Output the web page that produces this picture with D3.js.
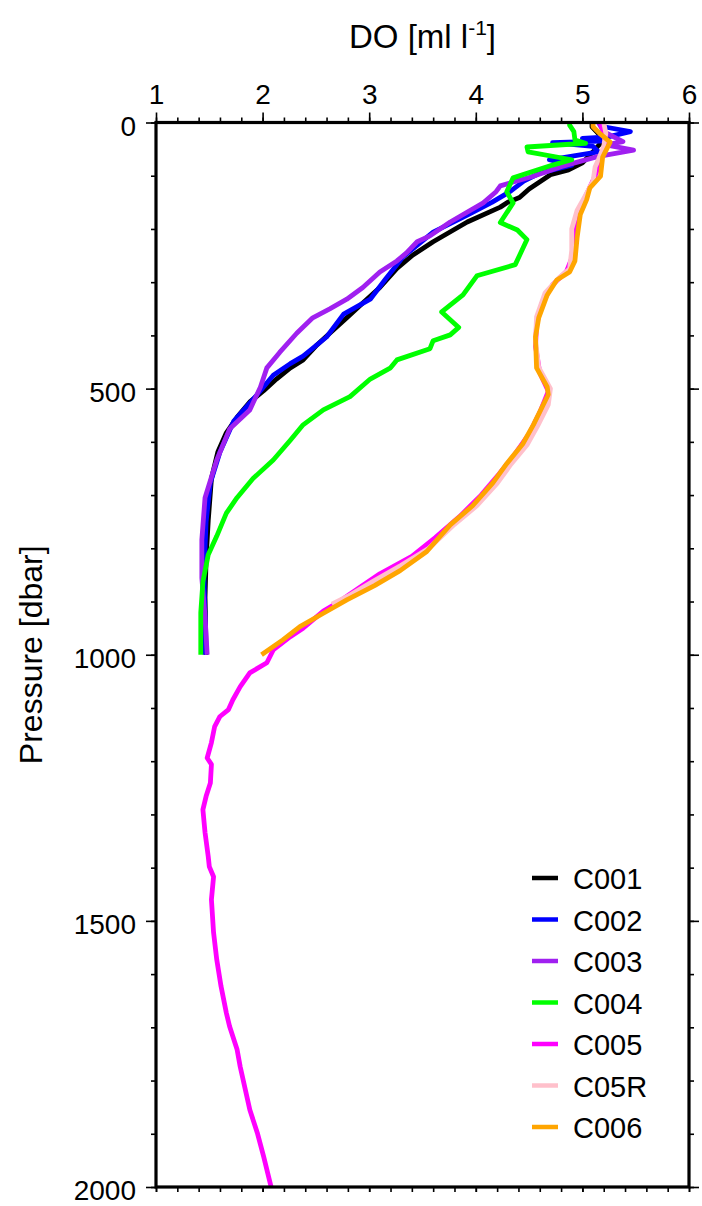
<!DOCTYPE html>
<html><head><meta charset="utf-8">
<script src="https://cdn.jsdelivr.net/npm/d3@7"></script>
<style>body{margin:0;background:#fff}svg{display:block}</style>
</head><body>
<script>
// Each profile: [DO (ml/l), pressure (dbar)]
const c001 = [[5.09,0],[5.09,8],[5.17,25],[5.17,39],[5.10,55],[5.00,76],[4.87,89],[4.70,98],[4.50,125],[4.41,141],[4.30,150],[4.23,159],[3.92,187],[3.60,224],[3.41,249],[3.26,274],[3.10,310],[2.94,339],[2.79,367],[2.63,396],[2.51,418],[2.38,446],[2.26,461],[2.13,482],[2.01,504],[1.88,525],[1.76,554],[1.66,583],[1.58,619],[1.52,669],[1.49,748],[1.47,820],[1.46,892],[1.47,1000]];
const c002 = [[5.17,0],[5.20,8],[5.45,17],[5.24,27],[5.00,30],[5.17,35],[4.72,38],[5.10,45],[5.15,55],[4.69,70],[4.90,80],[4.60,95],[4.45,110],[4.32,130],[4.15,150],[3.92,174],[3.60,206],[3.32,252],[3.15,295],[3.01,332],[2.76,360],[2.60,403],[2.38,439],[2.26,453],[2.10,475],[1.95,511],[1.73,561],[1.60,619],[1.51,677],[1.47,750],[1.45,850],[1.46,930],[1.46,1000]];
const c003 = [[5.15,0],[5.20,17],[5.38,36],[5.22,42],[5.48,52],[5.14,64],[4.80,83],[4.54,101],[4.23,119],[4.19,130],[4.07,151],[3.76,187],[3.57,213],[3.45,224],[3.35,245],[3.26,260],[3.10,281],[2.94,310],[2.79,332],[2.63,350],[2.47,367],[2.32,396],[2.16,432],[2.04,461],[1.98,497],[1.88,540],[1.69,576],[1.57,634],[1.46,705],[1.43,784],[1.43,856],[1.46,928],[1.48,1000]];
const c004 = [[4.88,0],[4.88,5],[4.92,17],[4.93,33],[5.03,39],[4.48,46],[4.49,55],[4.90,70],[4.72,80],[4.35,104],[4.29,130],[4.35,151],[4.23,188],[4.39,202],[4.48,220],[4.37,267],[4.01,288],[3.88,324],[3.68,356],[3.84,385],[3.76,399],[3.60,410],[3.57,425],[3.26,446],[3.20,461],[3.01,482],[2.82,515],[2.57,540],[2.38,568],[2.26,597],[2.10,634],[1.91,669],[1.76,705],[1.66,734],[1.57,777],[1.49,812],[1.44,863],[1.42,921],[1.42,1000]];
const c005 = [[5.17,0],[5.20,22],[5.22,40],[5.17,70],[5.12,100],[5.05,130],[4.98,160],[4.92,200],[4.91,250],[4.85,280],[4.72,305],[4.62,340],[4.57,380],[4.56,420],[4.60,470],[4.68,505],[4.60,545],[4.50,585],[4.36,625],[4.22,660],[4.05,700],[3.85,740],[3.62,780],[3.40,815],[3.10,848],[2.90,875],[2.72,900],[2.57,918],[2.38,950],[2.26,966],[2.10,991],[2.04,1015],[1.88,1034],[1.79,1060],[1.72,1085],[1.68,1103],[1.60,1116],[1.55,1135],[1.52,1165],[1.48,1194],[1.52,1206],[1.51,1241],[1.47,1266],[1.44,1291],[1.46,1334],[1.49,1379],[1.50,1398],[1.54,1417],[1.52,1460],[1.54,1522],[1.57,1573],[1.61,1623],[1.66,1673],[1.69,1698],[1.76,1741],[1.79,1774],[1.88,1855],[1.95,1898],[2.01,1943],[2.08,2000]];
const c05r = [[5.20,0],[5.22,20],[5.20,45],[5.15,70],[5.12,83],[5.10,110],[5.02,140],[4.95,165],[4.90,200],[4.90,240],[4.88,275],[4.78,292],[4.65,320],[4.57,365],[4.56,410],[4.59,460],[4.70,500],[4.68,530],[4.58,570],[4.48,606],[4.33,642],[4.20,678],[4.01,720],[3.80,755],[3.56,800],[3.30,832],[3.02,864],[2.80,890],[2.65,905]];
const c006 = [[5.10,0],[5.10,8],[5.17,22],[5.26,37],[5.19,65],[5.17,101],[5.07,123],[5.04,145],[4.98,173],[4.95,217],[4.93,260],[4.88,281],[4.76,296],[4.67,324],[4.59,367],[4.56,403],[4.57,461],[4.67,497],[4.68,511],[4.54,568],[4.44,604],[4.29,641],[4.16,677],[3.97,720],[3.76,756],[3.54,806],[3.29,842],[3.05,870],[2.79,897],[2.57,922],[2.35,947],[2.19,972],[1.99,1000]];

const seriesNames  = ["C001","C002","C003","C004","C005","C05R","C006"];
const seriesColors = ["#000000","#0000ff","#a020f0","#00ff00","#ff00ff","#ffc0cb","#ffa500"];
const seriesData   = [c001,c002,c003,c004,c005,c05r,c006];

const xMajorTicks = [1,2,3,4,5,6];
const yMajorTicks = [0,500,1000,1500,2000];

const W = 702, H = 1206;
const font = "'Liberation Sans', Arial, Helvetica, sans-serif";
const svg = d3.select("body").append("svg").attr("width", W).attr("height", H)
  .style("background", "#fff").style("font-family", font);

const x = d3.scaleLinear().domain([1,6]).range([156,689]);
const y = d3.scaleLinear().domain([0,2000]).range([122.5,1187]);

const xMinor = d3.range(1,6.001,0.2);
const yMinor = d3.range(0,2001,100);

function styleAxis(g){ g.select(".domain").remove(); g.selectAll("line").attr("stroke","#000").attr("stroke-width",1.6); g.selectAll("text").attr("fill","#000").style("font-family",font); }

// minor ticks
svg.append("g").attr("transform",`translate(0,${y(0)})`).call(d3.axisTop(x).tickValues(xMinor).tickSize(5).tickFormat("")).call(styleAxis);
svg.append("g").attr("transform",`translate(0,${y(2000)})`).call(d3.axisBottom(x).tickValues(xMinor).tickSize(5).tickFormat("")).call(styleAxis);
svg.append("g").attr("transform",`translate(${x(1)},0)`).call(d3.axisLeft(y).tickValues(yMinor).tickSize(5).tickFormat("")).call(styleAxis);
svg.append("g").attr("transform",`translate(${x(6)},0)`).call(d3.axisRight(y).tickValues(yMinor).tickSize(5).tickFormat("")).call(styleAxis);

// major ticks with labels
const topAxisG = svg.append("g").attr("transform",`translate(0,${y(0)})`)
  .call(d3.axisTop(x).tickValues(xMajorTicks).tickSize(10).tickPadding(9).tickFormat(d3.format("d"))).call(styleAxis);
topAxisG.selectAll("text").attr("font-size",28);
const leftAxisG = svg.append("g").attr("transform",`translate(${x(1)},0)`)
  .call(d3.axisLeft(y).tickValues(yMajorTicks).tickSize(10).tickPadding(10).tickFormat(d3.format("d"))).call(styleAxis);
leftAxisG.selectAll("text").attr("font-size",28).attr("dy","0.45em");
svg.append("g").attr("transform",`translate(${x(6)},0)`).call(d3.axisRight(y).tickValues(yMajorTicks).tickSize(10).tickFormat("")).call(styleAxis);
svg.append("g").attr("transform",`translate(0,${y(2000)})`).call(d3.axisBottom(x).tickValues(xMajorTicks).tickSize(5).tickFormat("")).call(styleAxis);

// data lines
const line = d3.line().x(d => x(d[0])).y(d => y(d[1]));
svg.append("clipPath").attr("id","plotclip").append("rect")
  .attr("x",x(1)).attr("y",y(0)).attr("width",x(6)-x(1)).attr("height",y(2000)-y(0));
const linesG = svg.append("g").attr("clip-path","url(#plotclip)");
seriesData.forEach((data,i) => {
  linesG.append("path").datum(data).attr("d",line).attr("fill","none")
    .attr("stroke",seriesColors[i]).attr("stroke-width",4.8)
    .attr("stroke-linejoin","round").attr("stroke-linecap","butt");
});

// frame
svg.append("rect").attr("x",x(1)).attr("y",y(0)).attr("width",x(6)-x(1)).attr("height",y(2000)-y(0))
  .attr("fill","none").attr("stroke","#000").attr("stroke-width",3.2);

// titles
const titleT = svg.append("text").attr("x",(x(1)+x(6))/2).attr("y",48).attr("text-anchor","middle")
  .attr("font-size",33).attr("fill","#000");
titleT.append("tspan").text("DO [ml l");
titleT.append("tspan").attr("font-size",21).attr("dy",-13).text("-1");
titleT.append("tspan").attr("dy",13).text("]");

svg.append("text").attr("transform",`translate(42,${(y(0)+y(2000))/2}) rotate(-90)`)
  .attr("text-anchor","middle").attr("font-size",32).attr("fill","#000").text("Pressure [dbar]");

// legend
const legendG = svg.append("g");
seriesNames.forEach((name,i) => {
  const cy = 878 + i*41.5;
  legendG.append("line").attr("x1",532).attr("x2",558).attr("y1",cy).attr("y2",cy)
    .attr("stroke",seriesColors[i]).attr("stroke-width",4.5);
  legendG.append("text").attr("x",573).attr("y",cy+11).attr("font-size",29).attr("fill","#000").text(name);
});
</script>
</body></html>
